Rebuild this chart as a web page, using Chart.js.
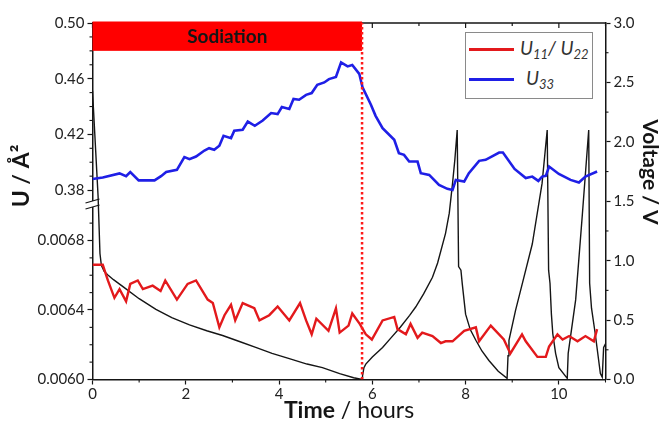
<!DOCTYPE html>
<html>
<head>
<meta charset="utf-8">
<script src="https://cdn.jsdelivr.net/npm/chart.js@4.4.1/dist/chart.umd.min.js"></script>
<style>
  body { margin: 0; background: #fff; }
  #wrap { position: relative; width: 662px; height: 425px; }
  #legend {
    position: absolute; left: 465px; top: 32px; width: 128px; height: 67px;
    border: 1px solid #8a8a8a; box-sizing: border-box; background: #fff;
    font-family: Lato, sans-serif; font-style: italic; font-size: 19px; color: #333;
  }
  .item { position: absolute; left: 3px; display: flex; align-items: center; height: 24px; }
  .swatch { width: 45px; height: 3px; margin-right: 6px; }
  .item sub { font-size: 13px; vertical-align: -4px; }
</style>
</head>
<body>
<div id="wrap">
  <canvas id="chart" width="662" height="425"></canvas>
  <div id="legend">
    <div class="item" style="top:4px"><span class="swatch" style="background:#e3191c"></span><span>U<sub>11</sub>/ U<sub>22</sub></span></div>
    <div class="item" style="top:34px"><span class="swatch" style="background:#1f1fe6"></span><span style="margin-left:6px">U<sub>33</sub></span></div>
  </div>
</div>
<script>
// U33 (upper left axis)
const u33Time = [0, 0.22, 0.58, 0.72, 0.81, 0.99, 1.33, 1.47, 1.58, 1.81, 1.97, 2.08, 2.22, 2.40, 2.50, 2.61, 2.72, 2.81, 2.97, 3.04,
  3.22, 3.33, 3.48, 3.65, 3.83, 3.97, 4.06, 4.22, 4.31, 4.43, 4.58, 4.70, 4.82, 4.97, 5.07, 5.22, 5.33, 5.47, 5.57, 5.72,
  5.79, 5.97, 6.07, 6.22, 6.47, 6.57, 6.68, 6.79, 6.97, 7.04, 7.22, 7.43, 7.61, 7.72, 7.79, 7.97, 8.07, 8.29, 8.43, 8.72,
  8.80, 9.05, 9.29, 9.43, 9.56, 9.64, 9.72, 9.79, 10.0, 10.25, 10.43, 10.57, 10.82];
const u33Values = [0.388, 0.389, 0.392, 0.390, 0.393, 0.387, 0.387, 0.390, 0.393, 0.3945, 0.4037, 0.4022, 0.4041, 0.4084, 0.4101, 0.4089, 0.4118, 0.4190, 0.4173, 0.4226,
  0.4233, 0.4292, 0.4262, 0.4300, 0.4353, 0.4346, 0.4396, 0.4382, 0.4454, 0.4449, 0.4484, 0.4497, 0.4556, 0.4573, 0.4597, 0.4612, 0.4717, 0.4688, 0.4698, 0.4635,
  0.4538, 0.4413, 0.4333, 0.4245, 0.4161, 0.4065, 0.4053, 0.4005, 0.4005, 0.3921, 0.3909, 0.3837, 0.3809, 0.3801, 0.3873, 0.3861, 0.3921, 0.4010, 0.4017, 0.4070,
  0.4070, 0.3952, 0.3886, 0.3897, 0.3866, 0.3897, 0.3902, 0.3969, 0.3916, 0.3873, 0.3854, 0.3897, 0.3933];

// U11 / U22 (lower left axis)
const u11Time = [0, 0.22, 0.33, 0.47, 0.58, 0.72, 0.81, 0.97, 1.08, 1.29, 1.46, 1.56, 1.81, 2.04, 2.22, 2.47, 2.58, 2.72, 2.83, 2.97,
  3.06, 3.22, 3.47, 3.58, 3.79, 3.97, 4.22, 4.45, 4.58, 4.70, 4.80, 5.06, 5.22, 5.30, 5.49, 5.57, 5.73, 5.86, 5.99, 6.22,
  6.47, 6.54, 6.72, 6.82, 6.97, 7.07, 7.29, 7.47, 7.57, 7.72, 7.97, 8.22, 8.29, 8.54, 8.82, 8.96, 9.21, 9.29, 9.54, 9.72,
  9.79, 9.97, 10.08, 10.22, 10.40, 10.57, 10.75, 10.82];
const u11Values = [0.00666, 0.00666, 0.00657, 0.00647, 0.00652, 0.00645, 0.00655, 0.00657, 0.00652, 0.00654, 0.00651, 0.00657, 0.00646, 0.00655, 0.00657, 0.00646, 0.00644, 0.00630, 0.00637, 0.00643,
  0.00634, 0.00644, 0.00641, 0.00634, 0.00637, 0.00642, 0.00634, 0.00644, 0.00634, 0.00626, 0.00635, 0.00628, 0.00641, 0.00627, 0.00631, 0.00638, 0.00632, 0.00626, 0.00623, 0.00634,
  0.00636, 0.00629, 0.00626, 0.00632, 0.00624, 0.00627, 0.00625, 0.00621, 0.00622, 0.00622, 0.00628, 0.00630, 0.00622, 0.00631, 0.00623, 0.00615, 0.00626, 0.00622, 0.00613, 0.00613,
  0.00619, 0.00626, 0.00623, 0.00625, 0.00622, 0.00625, 0.00622, 0.00629];

// cell voltage (right axis)
const voltTime = [0, 0.12, 0.16, 0.19, 0.25, 0.33, 0.45, 0.66, 1.0, 1.36, 1.7, 2.08, 2.45, 2.79, 3.15, 3.5, 3.85, 4.22, 4.6, 4.93,
  5.3, 5.6, 5.78, 5.79, 5.82, 5.86, 6.0, 6.22, 6.4, 6.6, 6.8, 6.93, 7.1, 7.29, 7.4, 7.57, 7.65, 7.72, 7.77, 7.82,
  7.85, 7.90, 7.93, 8.0, 8.1, 8.22, 8.35, 8.5, 8.7, 8.89, 8.91, 8.93, 9.07, 9.25, 9.43, 9.64, 9.75, 9.78, 9.81, 9.84,
  9.87, 9.93, 10.0, 10.18, 10.2, 10.36, 10.5, 10.64, 10.66, 10.70, 10.78, 10.89, 10.93, 10.96, 11.0];
const voltValues = [2.43, 1.54, 1.06, 0.96, 0.91, 0.88, 0.84, 0.78, 0.68, 0.59, 0.52, 0.46, 0.41, 0.37, 0.32, 0.27, 0.22, 0.175, 0.13, 0.10,
  0.05, 0.015, 0.0, 0.03, 0.10, 0.13, 0.19, 0.27, 0.35, 0.44, 0.54, 0.61, 0.72, 0.86, 0.98, 1.23, 1.40, 1.65, 1.85, 2.10,
  0.95, 0.92, 0.80, 0.55, 0.42, 0.33, 0.24, 0.16, 0.07, 0.01, 0.20, 0.33, 0.58, 0.86, 1.14, 1.65, 2.10, 0.92, 0.81, 0.55,
  0.385, 0.22, 0.10, 0.01, 0.22, 0.67, 1.37, 2.10, 0.81, 0.60, 0.385, 0.05, 0.02, 0.27, 0.30];

// sodiation period
const sodiationEnd = 5.78;
const sodiationBand = [0.48, 0.50];

// ticks
const timeTicks = [0, 1, 2, 3, 4, 5, 6, 7, 8, 9, 10, 11];
const timeLabels = [0, 2, 4, 6, 8, 10];
const uTopTicks = [0.38, 0.39, 0.40, 0.41, 0.42, 0.43, 0.44, 0.45, 0.46, 0.47, 0.48, 0.49, 0.50];
const uTopLabels = [0.38, 0.42, 0.46, 0.50];
const uBotTicks = [0.0060, 0.0061, 0.0062, 0.0063, 0.0064, 0.0065, 0.0066, 0.0067, 0.0068, 0.0069];
const uBotLabels = [0.0060, 0.0064, 0.0068];
const voltTicks = [0, 0.25, 0.5, 0.75, 1.0, 1.25, 1.5, 1.75, 2.0, 2.25, 2.5, 2.75, 3.0];
const voltLabels = [0, 0.5, 1.0, 1.5, 2.0, 2.5, 3.0];

const RED = "#e3191c";
const BLUE = "#1f1fe6";
const INK = "#151515";

const pts = (xs, ys) => xs.map((x, i) => ({ x: x, y: ys[i] }));
const has = (list, v) => list.some(l => Math.abs(l - v) < 1e-9);
const setTicks = list => scale => { scale.ticks = list.map(v => ({ value: v })); };

Chart.defaults.font.family = "Lato, sans-serif";
Chart.defaults.font.size = 15;
Chart.defaults.color = "#222";

// major ticks drawn by Chart.js, minor ones (shorter) by the plugin
const axisGrid = labels => ({
  drawOnChartArea: false, drawTicks: true, tickLength: 5, tickWidth: 1.2,
  tickColor: c => (c.tick && has(labels, c.tick.value)) ? INK : "rgba(0,0,0,0)"
});
const axisBorder = { display: true, color: INK, width: 1.5 };

const minorSets = [
  ["x", timeTicks, timeLabels, "bottom"],
  ["yTop", uTopTicks, uTopLabels, "left"],
  ["yBot", uBotTicks, uBotLabels, "left"],
  ["yV", voltTicks, voltLabels, "right"]
];

const decor = {
  id: "decor",
  beforeDatasetsDraw(chart) {
    const { ctx, chartArea: a, scales } = chart;
    const x = scales.x, yT = scales.yTop;
    ctx.save();
    // minor ticks
    ctx.strokeStyle = INK;
    ctx.lineWidth = 1.1;
    minorSets.forEach(([id, ticks, labels, side]) => {
      const s = scales[id];
      ticks.filter(v => !has(labels, v)).forEach(v => {
        const p = s.getPixelForValue(v);
        ctx.beginPath();
        if (side === "bottom") { ctx.moveTo(p, a.bottom); ctx.lineTo(p, a.bottom + 3); }
        if (side === "left") { ctx.moveTo(a.left, p); ctx.lineTo(a.left - 3, p); }
        if (side === "right") { ctx.moveTo(a.right, p); ctx.lineTo(a.right + 3, p); }
        ctx.stroke();
      });
    });
    // top frame with inward ticks
    ctx.lineWidth = 1.5;
    ctx.beginPath(); ctx.moveTo(a.left, a.top); ctx.lineTo(a.right, a.top); ctx.stroke();
    ctx.lineWidth = 1.2;
    timeTicks.forEach(t => {
      const px = x.getPixelForValue(t);
      ctx.beginPath(); ctx.moveTo(px, a.top); ctx.lineTo(px, a.top + (has(timeLabels, t) ? 5 : 3)); ctx.stroke();
    });
    // sodiation bar
    const x0 = x.getPixelForValue(0), x1 = x.getPixelForValue(sodiationEnd);
    const y0 = yT.getPixelForValue(sodiationBand[1]) - 1.5, y1 = yT.getPixelForValue(sodiationBand[0]);
    ctx.fillStyle = "#ff0000";
    ctx.fillRect(x0, y0, x1 - x0, y1 - y0);
    ctx.fillStyle = INK;
    ctx.font = "bold 19px Lato, sans-serif";
    ctx.textAlign = "center";
    ctx.textBaseline = "middle";
    ctx.fillText("Sodiation", (x0 + x1) / 2, (y0 + y1) / 2 + 1);
    // axis break on the left axis
    const yb = Math.max(yT.bottom, scales.yBot.top);
    ctx.fillStyle = "#fff";
    ctx.fillRect(a.left - 3, yb - 3, 6, 6);
    ctx.strokeStyle = INK;
    ctx.lineWidth = 1.3;
    ctx.beginPath();
    ctx.moveTo(a.left - 7, yb - 1); ctx.lineTo(a.left + 7, yb - 5);
    ctx.moveTo(a.left - 7, yb + 5); ctx.lineTo(a.left + 7, yb + 1);
    ctx.stroke();
    ctx.restore();
  },
  afterDraw(chart) {
    const { ctx, chartArea: a } = chart;
    ctx.save();
    ctx.fillStyle = INK;
    ctx.textBaseline = "middle";
    ctx.textAlign = "center";
    // left title
    ctx.save();
    ctx.translate(22, 176);
    ctx.rotate(-Math.PI / 2);
    ctx.font = "bold 23px Lato, sans-serif";
    ctx.fillText("U / Å²", 0, 0);
    ctx.restore();
    // right title
    ctx.save();
    ctx.translate(650, 172);
    ctx.rotate(Math.PI / 2);
    ctx.font = "bold 21px Lato, sans-serif";
    ctx.fillText("Voltage / V", 0, 0);
    ctx.restore();
    // bottom title: bold + regular
    const bold = "bold 23px Lato, sans-serif", reg = "23px Lato, sans-serif";
    ctx.font = bold; const w1 = ctx.measureText("Time").width;
    ctx.font = reg; const w2 = ctx.measureText(" / hours").width;
    const cx = (a.left + a.right) / 2;
    const sx = cx - (w1 + w2) / 2;
    ctx.textAlign = "left";
    ctx.font = bold; ctx.fillText("Time", sx, 411);
    ctx.font = reg; ctx.fillText(" / hours", sx + w1, 411);
    ctx.restore();
  }
};

new Chart(document.getElementById("chart"), {
  type: "line",
  data: {
    datasets: [
      { label: "sodiation end", data: [{ x: sodiationEnd, y: 0 }, { x: sodiationEnd, y: 3 }], yAxisID: "yV",
        borderColor: "#ff1a1a", borderWidth: 2.5, borderDash: [2.5, 2.5], pointRadius: 0, order: 0 },
      { label: "U33", data: pts(u33Time, u33Values), yAxisID: "yTop",
        borderColor: BLUE, borderWidth: 2.6, pointRadius: 0, order: 1 },
      { label: "U11 / U22", data: pts(u11Time, u11Values), yAxisID: "yBot",
        borderColor: RED, borderWidth: 2.4, pointRadius: 0, order: 2 },
      { label: "Voltage", data: pts(voltTime, voltValues), yAxisID: "yV",
        borderColor: INK, borderWidth: 1.4, pointRadius: 0, order: 3 }
    ]
  },
  options: {
    responsive: false,
    animation: false,
    events: [],
    layout: { padding: { top: 23, left: 0, right: 0, bottom: 0 } },
    plugins: { legend: { display: false }, tooltip: { enabled: false } },
    scales: {
      x: {
        type: "linear", position: "bottom", min: 0, max: 11,
        afterBuildTicks: setTicks(timeTicks),
        afterFit: s => { s.height = 45.5; },
        ticks: { autoSkip: false, maxRotation: 0, padding: 1, callback: v => has(timeLabels, v) ? String(v) : "" },
        grid: axisGrid(timeLabels), border: axisBorder
      },
      yBot: {
        type: "linear", position: "left", stack: "u", stackWeight: 175.5, min: 0.0060, max: 0.00701,
        afterBuildTicks: setTicks(uBotTicks),
        afterFit: s => { s.width = 92.5; },
        ticks: { autoSkip: false, padding: 3, callback: v => has(uBotLabels, v) ? v.toFixed(4) : "" },
        grid: axisGrid(uBotLabels), border: axisBorder
      },
      yTop: {
        type: "linear", position: "left", stack: "u", stackWeight: 181, min: 0.370, max: 0.50,
        afterBuildTicks: setTicks(uTopTicks),
        afterFit: s => { s.width = 92.5; },
        ticks: { autoSkip: false, padding: 3, callback: v => has(uTopLabels, v) ? v.toFixed(2) : "" },
        grid: axisGrid(uTopLabels), border: axisBorder
      },
      yV: {
        type: "linear", position: "right", min: 0, max: 3,
        afterBuildTicks: setTicks(voltTicks),
        afterFit: s => { s.width = 56.5; },
        ticks: { autoSkip: false, padding: 3, callback: v => has(voltLabels, v) ? v.toFixed(1) : "" },
        grid: axisGrid(voltLabels), border: axisBorder
      }
    }
  },
  plugins: [decor]
});
</script>
</body>
</html>
